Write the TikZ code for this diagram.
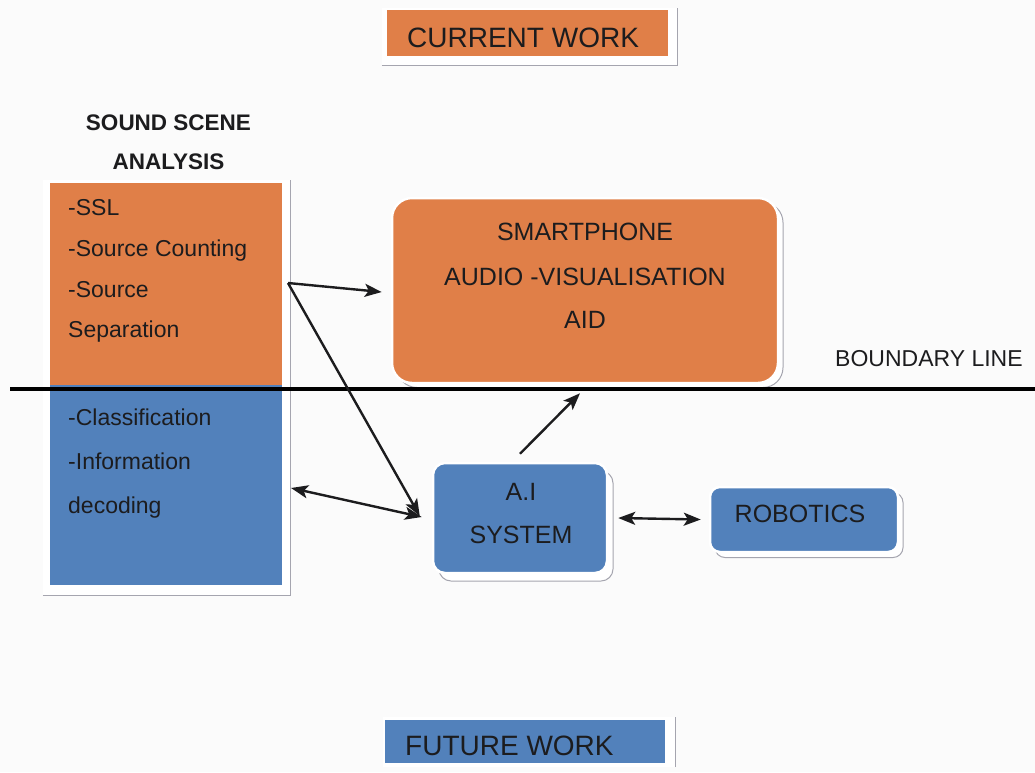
\documentclass[tikz,border=0pt]{standalone}
\usepackage{fontspec}
\setmainfont{Liberation Sans}
\usetikzlibrary{arrows.meta}

\definecolor{curorange}{RGB}{224,127,72}
\definecolor{futblue}{RGB}{82,129,187}
\definecolor{ink}{RGB}{28,28,30}
\definecolor{rim}{RGB}{165,165,175}
\definecolor{paper}{RGB}{251,251,251}

\begin{document}
\begin{tikzpicture}[x=1pt,y=-1pt,
  every node/.style={text=ink, inner sep=0pt},
  body/.style={font=\fontsize{25}{30}\selectfont},
  small/.style={font=\fontsize{23}{28}\selectfont},
  big/.style={font=\fontsize{28}{32}\selectfont},
  heading/.style={font=\bfseries\fontsize{22.5}{27}\selectfont},
  orangebox/.style={fill=curorange, draw=none, minimum width=#1},
  bluebox/.style={fill=futblue, draw=none, minimum width=#1},
  roundbox/.style={rounded corners=#1, draw=white, line width=2.5pt},
  backdrop/.style={rounded corners=#1, fill=white, draw=rim, line width=1pt},
  flatframe/.style={fill=white, draw=none},
  rimline/.style={draw=rim, line width=1.2pt},
  tip/.tip={Stealth[length=17pt,width=13pt,inset=4pt]},
  link/.style={draw=ink, line width=2.4pt, -tip},
  twoway/.style={draw=ink, line width=2.4pt, tip-tip},
  boundary/.style={draw=black, line width=4pt}
]
\useasboundingbox[fill=paper] (0,0) rectangle (1035,772);

% ---- CURRENT WORK label ----
\node[flatframe, minimum width=295, minimum height=57] (cwf) at (529.5,36.5) {};
\draw[rimline] (cwf.south west) -- (cwf.south east) -- (cwf.north east);
\node[orangebox=281, minimum height=46] (cw) at (527.5,33) {};
\node[big, anchor=base west] (cwt) at (407,47) {CURRENT WORK};

% ---- Sound scene analysis column ----
\node[heading, anchor=base] (h1) at (168.5,130) {SOUND SCENE};
\node[heading, anchor=base] (h2) at (168.5,169) {ANALYSIS};

\node[flatframe, minimum width=247, minimum height=415] (ssaf) at (166.5,387.5) {};
\draw[rimline] (ssaf.south west) -- (ssaf.south east) -- (ssaf.north east);
\node[orangebox=232, minimum height=202] (ssatop) at (166,284) {};
\node[bluebox=232, minimum height=200] (ssabot) at (166,485) {};

\node[small, anchor=base west] (l1) at (68,215) {-SSL};
\node[small, anchor=base west] (l2) at (68,256) {-Source Counting};
\node[small, anchor=base west] (l3) at (68,297) {-Source};
\node[small, anchor=base west] (l4) at (68,337) {Separation};
\node[small, anchor=base west] (l5) at (68,425) {-Classification};
\node[small, anchor=base west] (l6) at (68,469) {-Information};
\node[small, anchor=base west] (l7) at (68,513) {decoding};

% ---- Smartphone aid ----
\node[backdrop=20pt, minimum width=386, minimum height=185] (smartsh) at (590,295) {};
\node[roundbox=20pt, fill=curorange, minimum width=386, minimum height=185] (smart) at (585,290.5) {};
\node[body, anchor=base] (s1) at (585,240) {SMARTPHONE};
\node[body, anchor=base] (s2) at (585,285) {AUDIO -VISUALISATION};
\node[body, anchor=base] (s3) at (585,328) {AID};

% ---- A.I system ----
\node[backdrop=12pt, minimum width=174, minimum height=110] (aish) at (526,526) {};
\node[roundbox=12pt, fill=futblue, minimum width=174, minimum height=110] (ai) at (520,518) {};
\node[body, anchor=base] (a1) at (521,500) {A.I};
\node[body, anchor=base] (a2) at (521,543) {SYSTEM};

% ---- Robotics ----
\node[backdrop=10pt, minimum width=188, minimum height=65] (robsh) at (809,525) {};
\node[roundbox=10pt, fill=futblue, minimum width=188, minimum height=65] (rob) at (804,519.5) {};
\node[body, anchor=base] (r1) at (800,522) {ROBOTICS};

% ---- FUTURE WORK label ----
\node[flatframe, minimum width=292, minimum height=50] (fwf) at (529,742) {};
\draw[rimline] (fwf.south east) -- (fwf.north east);
\node[bluebox=280, minimum height=43] (fw) at (525,741.5) {};
\node[big, anchor=base west] (fwt) at (405,755) {FUTURE WORK};

% ---- boundary between current and future work ----
\coordinate (bl) at (10,389);
\coordinate (br) at (1035,389);
\draw[boundary] (bl) -- (br);
\node[small, anchor=base west] (blt) at (835,366) {BOUNDARY LINE};

% ---- connectors ----
\coordinate (ssaout) at (288,283);
\coordinate (ssain) at (291,488);
\draw[link] (ssaout) -- ([xshift=-9pt,yshift=-1.5pt]smart.west);
\draw[link] (ssaout) -- ([xshift=-12pt,yshift=2pt]ai.west);
\draw[twoway] (ssain) -- ([xshift=-10pt,yshift=1pt]ai.west);
\draw[link] ([yshift=8pt]ai.north) -- ([xshift=-5pt,yshift=-9pt]smart.south);
\draw[twoway] ([xshift=10pt]ai.east) -- ([xshift=-8pt]rob.west);
\end{tikzpicture}
\end{document}
